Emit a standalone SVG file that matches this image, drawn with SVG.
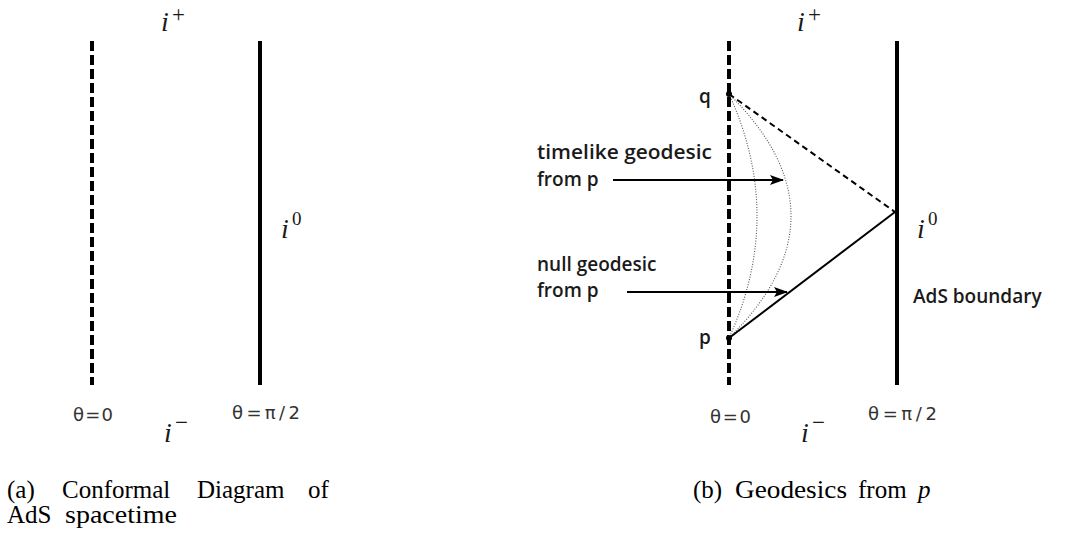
<svg xmlns="http://www.w3.org/2000/svg" width="1066" height="539" viewBox="0 0 1066 539">
<defs>
<style>
.bnd{stroke:#000;stroke-width:4;fill:none}
.dash{stroke:#000;stroke-width:4;stroke-dasharray:10,4;fill:none}
.thin{stroke:#000;stroke-width:2;fill:none}
.thindash{stroke:#000;stroke-width:2;stroke-dasharray:6,4;fill:none}
.dot{stroke:#555;stroke-width:1.1;stroke-dasharray:1,1.6;fill:none}
.m{font-family:"Liberation Serif","DejaVu Serif",serif;font-style:italic;font-size:28px;fill:#1a1a1a}
.sup{font-family:"Liberation Serif","DejaVu Serif",serif;fill:#1a1a1a}
.th{font-family:"DejaVu Sans","Liberation Sans",sans-serif;font-size:18px;fill:#333}
.lbl{font-family:"Open Sans","DejaVu Sans",sans-serif;font-size:19px;font-weight:600;fill:#1a1a1a}
.cap{font-family:"Liberation Serif","DejaVu Serif",serif;font-size:25px;fill:#000}
</style>
<marker id="ah" markerWidth="14" markerHeight="10" refX="13" refY="5" orient="auto" markerUnits="userSpaceOnUse">
<path d="M0,0 L14,5 L0,10 L3,5 Z" fill="#000"/>
</marker>
</defs>

<g id="panel-a">
<g id="a-theta0-line"><line class="dash" x1="92" y1="41" x2="92" y2="385"/></g>
<g id="a-boundary"><line class="bnd" x1="260" y1="41" x2="260" y2="385"/></g>
<g id="a-iplus"><text class="m" x="161" y="31">i</text><text class="sup" x="172" y="22" font-size="23">+</text></g>
<g id="a-izero"><text class="m" x="281" y="238">i</text><text class="sup" x="292" y="225" font-size="19">0</text></g>
<g id="a-iminus"><text class="m" x="164" y="442">i</text><text class="sup" x="175" y="430" font-size="23">−</text></g>
<g id="a-th0"><text class="th" x="73" y="421" textLength="40" lengthAdjust="spacing">θ=0</text></g>
<g id="a-thpi"><text class="th" x="232" y="419" textLength="68" lengthAdjust="spacing">θ=π/2</text></g>
<g id="a-caption">
<text class="cap" y="498"><tspan x="7">(a)</tspan><tspan x="62">Conformal</tspan><tspan x="197">Diagram</tspan><tspan x="308">of</tspan></text>
<text class="cap" y="523"><tspan x="7">AdS</tspan><tspan x="65" textLength="112" lengthAdjust="spacingAndGlyphs">spacetime</tspan></text>
</g>
</g>

<g id="panel-b">
<g id="b-theta0-line"><line class="dash" x1="729" y1="41" x2="729" y2="385"/></g>
<g id="b-boundary"><line class="bnd" x1="897" y1="41" x2="897" y2="385"/></g>
<g id="b-iplus"><text class="m" x="797" y="31">i</text><text class="sup" x="808" y="22" font-size="23">+</text></g>
<g id="b-izero"><text class="m" x="917" y="238">i</text><text class="sup" x="928" y="225" font-size="19">0</text></g>
<g id="b-iminus"><text class="m" x="801" y="442">i</text><text class="sup" x="812" y="430" font-size="23">−</text></g>
<g id="b-th0"><text class="th" x="710" y="423" textLength="41" lengthAdjust="spacing">θ=0</text></g>
<g id="b-thpi"><text class="th" x="868" y="420" textLength="69" lengthAdjust="spacing">θ=π/2</text></g>
<g id="b-q"><circle cx="729" cy="94" r="3"/><text class="lbl" x="699" y="103">q</text></g>
<g id="b-p"><circle cx="729" cy="338" r="3"/><text class="lbl" x="699" y="344">p</text></g>
<g id="b-timelike-label"><text class="lbl" x="537" y="159" textLength="175" lengthAdjust="spacingAndGlyphs">timelike geodesic</text><text class="lbl" x="537" y="186">from p</text></g>
<g id="b-null-label"><text class="lbl" x="537" y="271">null geodesic</text><text class="lbl" x="537" y="297">from p</text></g>
<g id="b-ads-label"><text class="lbl" x="913" y="303">AdS boundary</text></g>
<g id="b-caption"><text class="cap" y="498"><tspan x="693">(b)</tspan><tspan x="735" textLength="112" lengthAdjust="spacingAndGlyphs">Geodesics</tspan><tspan x="858">from</tspan><tspan x="918" font-style="italic">p</tspan></text></g>
</g>

<g id="connectors">
<path class="dot" d="M729,94 Q785,216 729,338"/>
<path class="dot" d="M729,94 Q853,216 729,338"/>
<line class="thindash" x1="729" y1="94" x2="895" y2="212"/>
<line class="thin" x1="729" y1="338" x2="895" y2="212"/>
<line class="thin" x1="613" y1="180" x2="783" y2="180" marker-end="url(#ah)"/>
<line class="thin" x1="627" y1="292" x2="787" y2="292" marker-end="url(#ah)"/>
</g>
</svg>
